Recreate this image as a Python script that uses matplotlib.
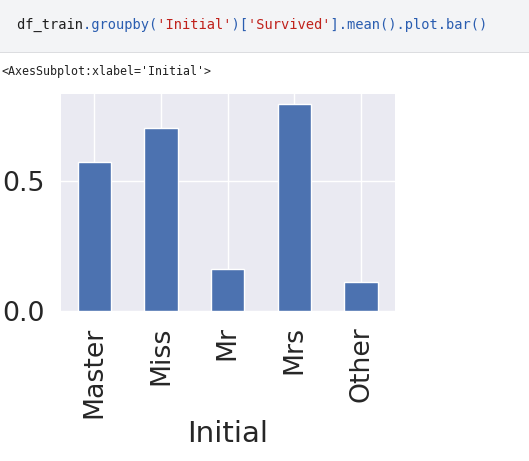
import matplotlib
matplotlib.use('Agg')
import matplotlib.pyplot as plt
import pandas as pd
from matplotlib.patches import Rectangle

initials = ['Master', 'Miss', 'Mr', 'Mrs', 'Other']
survival = [0.575, 0.704, 0.163, 0.795, 0.111]

code = "df_train.groupby('Initial')['Survived'].mean().plot.bar()"
output_repr = "<AxesSubplot:xlabel='Initial'>"

W, H, DPI = 529, 461, 100
fig = plt.figure(figsize=(W / DPI, H / DPI), dpi=DPI)
fig.patch.set_facecolor('white')

# notebook code cell
fig.patches.append(Rectangle((0, 1 - 52 / H), 1, 52 / H, transform=fig.transFigure,
                             facecolor='#f3f4f6', edgecolor='none', zorder=0))
fig.patches.append(Rectangle((0, 1 - 53 / H), 1, 1.2 / H, transform=fig.transFigure,
                             facecolor='#dcdde0', edgecolor='none', zorder=0))

# colour the code by masking characters out with spaces (monospace keeps alignment)
red = set()
in_str = False
for i, ch in enumerate(code):
    if ch == "'":
        red.add(i)
        in_str = not in_str
    elif in_str:
        red.add(i)
dark = set(range(len('df_train')))
blue = set(range(len(code))) - red - dark
for idx, col in [(dark, '#1f1f1f'), (blue, '#2a5db0'), (red, '#c0221c')]:
    s = ''.join(c if i in idx else ' ' for i, c in enumerate(code))
    fig.text(17 / W, 1 - 25 / H, s, family='DejaVu Sans Mono', fontsize=9.9,
             color=col, va='center', ha='left')

fig.text(2 / W, 1 - 71 / H, output_repr, family='DejaVu Sans Mono', fontsize=8.35,
         color='#212121', va='center', ha='left')

# the plot itself (seaborn darkgrid look)
ax = fig.add_axes([61 / W, 1 - 311 / H, (394.5 - 61) / W, (311 - 94) / H])
ax.set_facecolor('#eaeaf2')

s = pd.Series(survival, index=pd.Index(initials, name='Initial'))
s.plot.bar(ax=ax, color='#4c72b0', edgecolor='white', linewidth=1.0, width=0.5)

ax.set_axisbelow(True)
ax.grid(True, color='white', linewidth=1.0)
for sp in ax.spines.values():
    sp.set_visible(False)

ax.set_yticks([0.0, 0.5])
ax.set_yticklabels(['0.0', '0.5'])
ax.tick_params(axis='both', length=0, colors='#262626')
ax.tick_params(axis='x', labelsize=19.3, pad=11, labelrotation=90)
ax.tick_params(axis='y', labelsize=19.3, pad=12)
ax.set_xlabel('Initial', fontsize=21.2, color='#262626', labelpad=2)

fig.savefig('out.png', dpi=DPI)
